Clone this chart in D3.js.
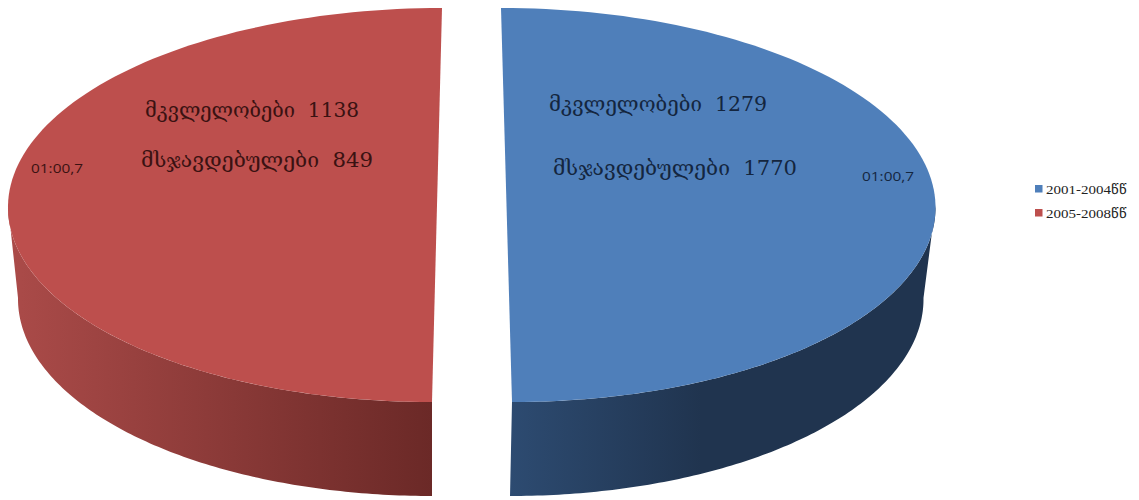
<!DOCTYPE html>
<html><head><meta charset="utf-8">
<script src="https://cdn.jsdelivr.net/npm/d3@7"></script>
<style>html,body{margin:0;padding:0;background:#fff}svg{display:block}</style>
</head><body>
<svg id="c" width="1139" height="500"></svg>
<script>
const categories = ["2001-2004წწ", "2005-2008წწ"];
const shares = [50, 50];
const ratioLabels = ["01:00,7", "01:00,7"];
const killingsLabel = "მკვლელობები";
const convictedLabel = "მსჯავდებულები";
const killings = [1279, 1138];
const convicted = [1770, 849];

const svg = d3.select("#c");
const defs = svg.append("defs");
const topFill = ["#4f7fba", "#bd4f4d"];
const sideStops = [["#2d4b71", "#20344f"], ["#6b2927", "#ab4b49"]];
const sideRange = [[510, 935], [432, 8]];

categories.forEach((c, i) => {
  const g = defs.append("linearGradient").attr("id", "side" + i)
    .attr("gradientUnits", "userSpaceOnUse")
    .attr("x1", sideRange[i][0]).attr("x2", sideRange[i][1]).attr("y1", 0).attr("y2", 0);
  g.append("stop").attr("offset", "0%").attr("stop-color", sideStops[i][0]);
  g.append("stop").attr("offset", i ? "100%" : "45%").attr("stop-color", sideStops[i][1]);
});

const yTop = d3.scaleLinear().domain([1, -1]).range([8, 402]);
const yBot = d3.scaleLinear().domain([1, -1]).range([100, 496]);
const axisTop = [d3.scaleLinear().domain([1, -1]).range([501, 512]),
                 d3.scaleLinear().domain([1, -1]).range([442, 432])];
const axisBot = [d3.scaleLinear().domain([1, -1]).range([505, 510]),
                 d3.scaleLinear().domain([1, -1]).range([436, 432])];
const rxTop = 429, rxBot = 416;

const pieData = d3.pie().sort(null)(shares);
const line = d3.line();

function facePts(i, y, axis, rx, from, to) {
  return d3.range(0, 121).map(k => {
    const a = from + (to - from) * k / 120;
    const cos = Math.cos(a), sin = Math.sin(a);
    return [axis[i](cos) + rx * sin, y(cos)];
  });
}

pieData.forEach((d, i) => {
  const lowFrom = i === 0 ? Math.PI / 2 : d.startAngle;
  const lowTo = i === 0 ? d.endAngle : d.startAngle + Math.PI / 2;
  const a = facePts(i, yTop, axisTop, rxTop, lowFrom, lowTo);
  const b = facePts(i, yBot, axisBot, rxBot, lowFrom, lowTo).reverse();
  svg.append("path").attr("d", line(a.concat(b)) + "Z").attr("fill", `url(#side${i})`);
});
pieData.forEach((d, i) => {
  const pts = facePts(i, yTop, axisTop, rxTop, d.startAngle, d.endAngle);
  svg.append("path").attr("d", line(pts) + "Z").attr("fill", topFill[i]);
});

const serif = '"DejaVu Serif","DejaVu Sans",serif';
const labelPos = [
  {k:[549,111,218], c:[553,175,244], r:[862,181]},
  {k:[145,117,214], c:[141,167,232], r:[31,173]}
];
const inkColor = ["#14263f", "#3a1212"];
categories.forEach((c, i) => {
  const p = labelPos[i];
  [[`${killingsLabel}  ${killings[i]}`, p.k], [`${convictedLabel}  ${convicted[i]}`, p.c]].forEach(([t, q]) => {
    svg.append("text").attr("x", q[0]).attr("y", q[1]).attr("xml:space", "preserve")
      .attr("textLength", q[2]).attr("lengthAdjust", "spacingAndGlyphs")
      .attr("font-family", serif).attr("font-size", 21).attr("fill", inkColor[i]).text(t);
  });
  svg.append("text").attr("x", p.r[0]).attr("y", p.r[1])
    .attr("font-family", '"Open Sans","Noto Sans",sans-serif').attr("font-size", 13.5)
    .attr("textLength", 52).attr("lengthAdjust", "spacingAndGlyphs")
    .attr("fill", inkColor[i]).text(ratioLabels[i]);
});

const legendY = d3.scalePoint().domain(categories).range([189, 213]);
categories.forEach((c, i) => {
  svg.append("rect").attr("x", 1035).attr("y", legendY(c) - 4).attr("width", 7.5).attr("height", 7.5).attr("fill", topFill[i]);
  svg.append("text").attr("x", 1046).attr("y", legendY(c) + 4.5)
    .attr("font-family", '"Liberation Serif",serif').attr("font-size", 13).attr("fill", "#222")
    .attr("textLength", 81).attr("lengthAdjust", "spacingAndGlyphs").text(c);
});
</script>
</body></html>
